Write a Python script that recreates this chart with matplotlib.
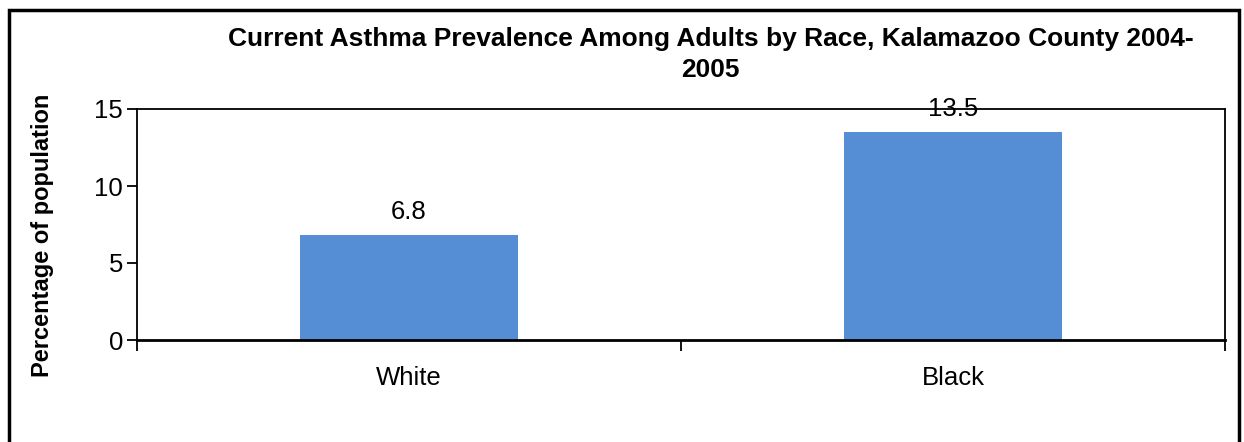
import matplotlib.pyplot as plt
from matplotlib.patches import Rectangle

plt.rcParams['font.family'] = ['Liberation Sans', 'DejaVu Sans']

races = ['White', 'Black']
prevalence = [6.8, 13.5]
y_ticks = [0, 5, 10, 15]

fig = plt.figure(figsize=(12.44, 4.42), dpi=100)
ax = fig.add_axes([137 / 1244, 1 - 340 / 442, 1088 / 1244, 231 / 442])

x = range(len(races))
bars = ax.bar(x, prevalence, width=0.4, color='#558ed5')
for b, v in zip(bars, prevalence):
    ax.annotate(f'{v:.1f}', (b.get_x() + b.get_width() / 2, v),
                xytext=(0, 16.5), textcoords='offset points',
                ha='center', va='center', fontsize=18.5)

ax.set_xlim(-0.5, 1.5)
ax.set_ylim(0, 15)
ax.set_yticks(y_ticks)
ax.tick_params(axis='y', labelsize=18.5, length=7, width=1.3, direction='out', pad=3)

# category boundaries get the ticks, names sit in between
ax.set_xticks([-0.5, 0.5, 1.5])
ax.set_xticklabels([])
ax.tick_params(axis='x', which='major', length=8, width=1.3, direction='out')
ax.set_xticks(list(x), minor=True)
ax.set_xticklabels(races, minor=True)
ax.tick_params(axis='x', which='minor', length=0, labelsize=18.5, pad=19)

for s in ax.spines.values():
    s.set_linewidth(1.3)
ax.spines['bottom'].set_linewidth(2)

ax.set_ylabel('Percentage of population', fontsize=17, fontweight='bold')
ax.yaxis.set_label_coords(-0.076, 0.455)

fig.text(0.571, 0.877, 'Current Asthma Prevalence Among Adults by Race, Kalamazoo County 2004-\n2005',
         ha='center', va='center', fontsize=19, fontweight='bold', linespacing=1.4)

fig.patches.append(Rectangle((9 / 1244, -0.05), 1230 / 1244, 1 - 10 / 442 + 0.05,
                             transform=fig.transFigure, fill=False,
                             edgecolor='black', linewidth=2.5))

fig.savefig('out.png', dpi=100)
